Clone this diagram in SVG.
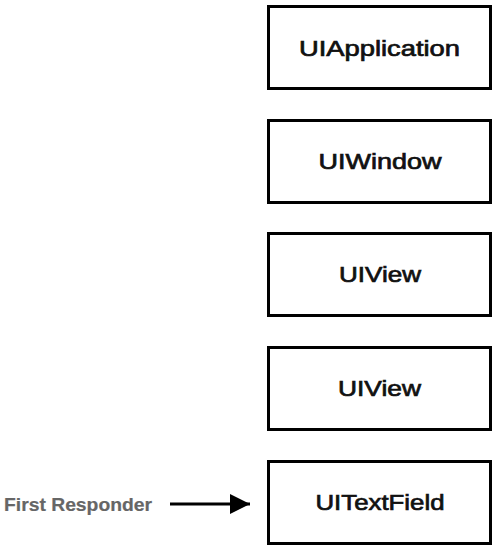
<svg xmlns="http://www.w3.org/2000/svg" width="496" height="545" viewBox="0 0 496 545">
<style>
.box{fill:#fff;stroke:#000;stroke-width:3}
.lbl{font-family:"Liberation Sans",Arial,sans-serif;font-size:22px;fill:#111;stroke:#111;stroke-width:0.7;text-anchor:middle}
.side{font-family:"Liberation Sans",Arial,sans-serif;font-size:18.5px;font-weight:bold;fill:#666;stroke:#666;stroke-width:0.2}
.conn{stroke:#000;stroke-width:3;fill:none}
</style>
<defs>
<marker id="ah" markerUnits="userSpaceOnUse" markerWidth="22" markerHeight="22" refX="20" refY="10" orient="auto">
<path d="M0,0 L20,10 L0,20 Z" fill="#000"/>
</marker>
</defs>
<rect width="496" height="545" fill="#fff"/>
<g id="connectors">
<line class="conn" x1="170" y1="504" x2="250" y2="504" marker-end="url(#ah)"/>
</g>
<g id="n-uiapplication">
<rect class="box" x="268.5" y="6.5" width="222" height="82"/>
<text class="lbl" x="379.5" y="55.5" textLength="161" lengthAdjust="spacingAndGlyphs">UIApplication</text>
</g>
<g id="n-uiwindow">
<rect class="box" x="268.5" y="120.5" width="222" height="82"/>
<text class="lbl" x="380" y="168.5" textLength="123" lengthAdjust="spacingAndGlyphs">UIWindow</text>
</g>
<g id="n-uiview1">
<rect class="box" x="268.5" y="233.5" width="222" height="82"/>
<text class="lbl" x="380" y="282" textLength="82" lengthAdjust="spacingAndGlyphs">UIView</text>
</g>
<g id="n-uiview2">
<rect class="box" x="268.5" y="347.5" width="222" height="82"/>
<text class="lbl" x="379.5" y="396" textLength="83" lengthAdjust="spacingAndGlyphs">UIView</text>
</g>
<g id="n-uitextfield">
<rect class="box" x="268.5" y="461.5" width="222" height="82"/>
<text class="lbl" x="380" y="510" textLength="129" lengthAdjust="spacingAndGlyphs">UITextField</text>
</g>
<g id="label-first-responder">
<text class="side" x="4" y="510.5" textLength="148" lengthAdjust="spacingAndGlyphs">First Responder</text>
</g>
</svg>
